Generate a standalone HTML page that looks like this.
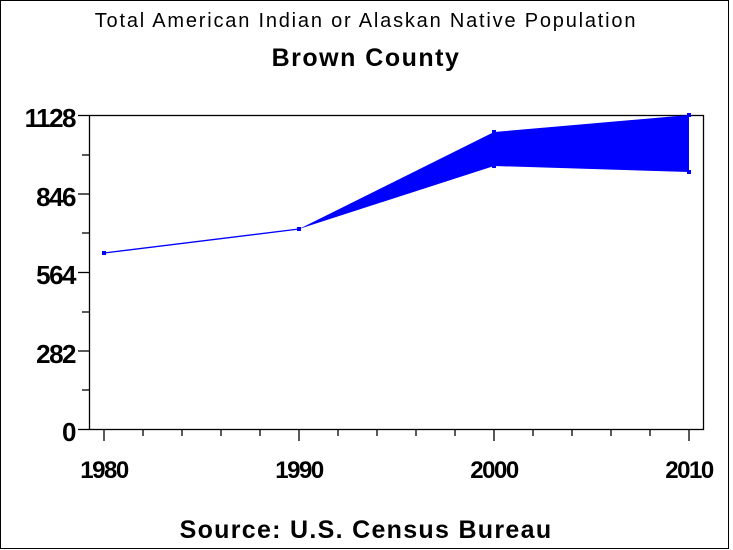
<!DOCTYPE html>
<html><head><style>
body{margin:0;background:#fff}
svg{display:block}
text{font-family:"Liberation Sans",Arial,sans-serif;fill:#000}
</style></head><body>
<svg width="733" height="550" viewBox="0 0 733 550">
<rect x="0.5" y="0.5" width="728" height="548" fill="#fff" stroke="#000" stroke-width="1"/>
<text x="366" y="27" font-size="20" text-anchor="middle" letter-spacing="1.8">Total American Indian or Alaskan Native Population</text>
<text x="366" y="66" font-size="25" font-weight="bold" text-anchor="middle" letter-spacing="1.5">Brown County</text>
<rect x="89.5" y="115.5" width="614" height="314" fill="none" stroke="#000" stroke-width="1.3"/>
<g stroke="#000" stroke-width="1.3">
<line x1="78" y1="115.5" x2="89" y2="115.5"/><line x1="82" y1="155" x2="89" y2="155"/>
<line x1="78" y1="194" x2="89" y2="194"/><line x1="82" y1="233" x2="89" y2="233"/>
<line x1="78" y1="272.5" x2="89" y2="272.5"/><line x1="82" y1="312" x2="89" y2="312"/>
<line x1="78" y1="351" x2="89" y2="351"/><line x1="82" y1="390" x2="89" y2="390"/>
<line x1="78" y1="429.5" x2="89" y2="429.5"/>
<line x1="104" y1="430" x2="104" y2="441"/><line x1="143" y1="430" x2="143" y2="436"/><line x1="182" y1="430" x2="182" y2="436"/><line x1="221" y1="430" x2="221" y2="436"/><line x1="260" y1="430" x2="260" y2="436"/>
<line x1="299" y1="430" x2="299" y2="441"/><line x1="338" y1="430" x2="338" y2="436"/><line x1="377" y1="430" x2="377" y2="436"/><line x1="416" y1="430" x2="416" y2="436"/><line x1="455" y1="430" x2="455" y2="436"/>
<line x1="494" y1="430" x2="494" y2="441"/><line x1="533" y1="430" x2="533" y2="436"/><line x1="572" y1="430" x2="572" y2="436"/><line x1="611" y1="430" x2="611" y2="436"/><line x1="650" y1="430" x2="650" y2="436"/>
<line x1="689" y1="430" x2="689" y2="441"/>
</g>
<g font-size="26" font-weight="bold" text-anchor="end" letter-spacing="-1.5">
<text x="75" y="127">1128</text><text x="75" y="206">846</text><text x="75" y="284">564</text><text x="75" y="363">282</text><text x="75" y="441">0</text>
</g>
<g font-size="24" font-weight="bold" text-anchor="middle" letter-spacing="-1.5">
<text x="104" y="478">1980</text><text x="299" y="478">1990</text><text x="494" y="478">2000</text><text x="689" y="478">2010</text>
</g>
<text x="366" y="538" font-size="25" font-weight="bold" text-anchor="middle" letter-spacing="1.3">Source: U.S. Census Bureau</text>
<polyline points="104,253 299,229" fill="none" stroke="#0000ff" stroke-width="1.3"/>
<polygon points="299,229 494,132 689,115 689,172 494,166" fill="#0000ff"/>
<g fill="#0000ff">
<rect x="102" y="251" width="4" height="4"/><rect x="297" y="227" width="4" height="4"/>
<rect x="492" y="130" width="4" height="4"/><rect x="492" y="164" width="4" height="4"/>
<rect x="687" y="113" width="4" height="4"/><rect x="687" y="170" width="4" height="4"/>
</g>
</svg>
</body></html>
